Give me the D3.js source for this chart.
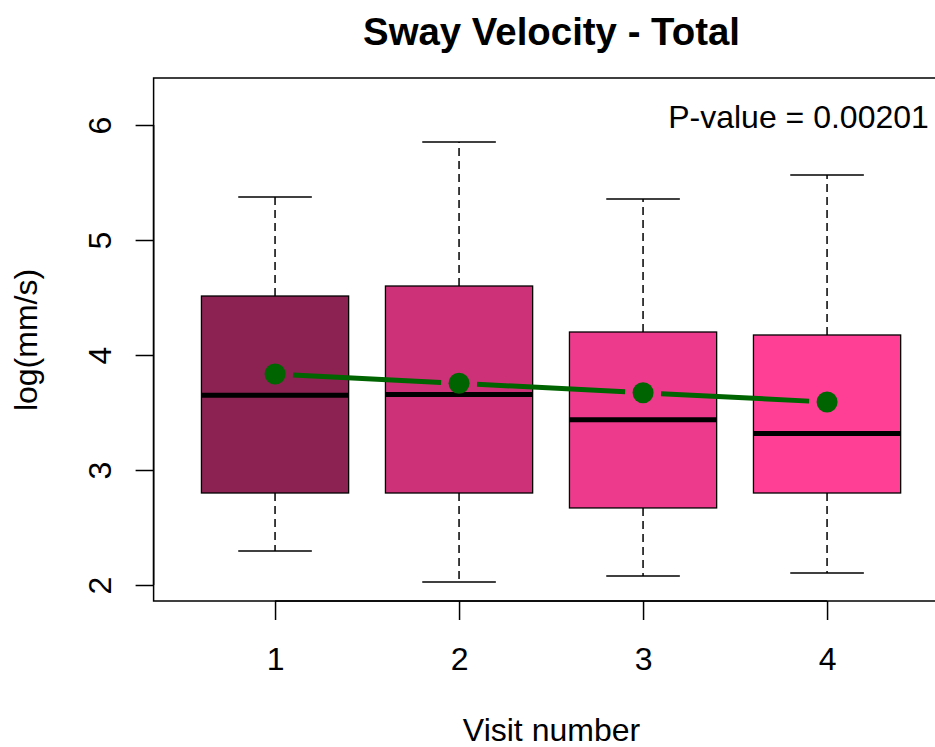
<!DOCTYPE html>
<html>
<head>
<meta charset="utf-8">
<script src="https://cdn.jsdelivr.net/npm/d3@7"></script>
<style>
  html, body { margin: 0; padding: 0; background: #fff; }
  svg { display: block; font-family: Arial, "Liberation Sans", Helvetica, sans-serif; }
</style>
</head>
<body>
<svg id="chart" width="935" height="747"></svg>
<script>
// Sway velocity (log mm/s) per visit: five-number summaries and means
const visits   = [1, 2, 3, 4];
const whiskLo  = [2.296, 2.026, 2.078, 2.104];
const q1       = [2.800, 2.800, 2.670, 2.800];
const median   = [3.650, 3.657, 3.437, 3.318];
const q3       = [4.513, 4.600, 4.200, 4.174];
const whiskHi  = [5.374, 5.852, 5.357, 5.565];
const means    = [3.835, 3.754, 3.672, 3.591];
const fills    = ["#8B2252", "#CD3278", "#EE3A8C", "#FF3E96"];
const yTicks   = [2, 3, 4, 5, 6];
const pLabel   = "P-value = 0.00201";

const svg = d3.select("#chart");

const x = d3.scaleLinear().domain([0.34, 4.66]).range([153.6, 948.5]);
const y = d3.scaleLinear().domain([1.8609, 6.4087]).range([601, 78]);

const boxHalf = 0.4, capHalf = 0.2;

const boxes = visits.map((v, i) => ({
  v, lo: whiskLo[i], q1: q1[i], med: median[i], q3: q3[i], hi: whiskHi[i], mean: means[i], fill: fills[i]
}));

const g = svg.append("g");

// whiskers (dashed) and caps
boxes.forEach(d => {
  g.append("line")
    .attr("x1", x(d.v)).attr("x2", x(d.v))
    .attr("y1", y(d.q3)).attr("y2", y(d.hi))
    .attr("stroke", "#000").attr("stroke-width", 1.5).attr("stroke-dasharray", "8,5");
  g.append("line")
    .attr("x1", x(d.v)).attr("x2", x(d.v))
    .attr("y1", y(d.q1)).attr("y2", y(d.lo))
    .attr("stroke", "#000").attr("stroke-width", 1.5).attr("stroke-dasharray", "8,5");
  [d.hi, d.lo].forEach(val => {
    g.append("line")
      .attr("x1", x(d.v - capHalf)).attr("x2", x(d.v + capHalf))
      .attr("y1", y(val)).attr("y2", y(val))
      .attr("stroke", "#000").attr("stroke-width", 1.5);
  });
});

// boxes
g.selectAll("rect.box").data(boxes).enter().append("rect")
  .attr("class", "box")
  .attr("x", d => x(d.v - boxHalf))
  .attr("width", d => x(d.v + boxHalf) - x(d.v - boxHalf))
  .attr("y", d => y(d.q3))
  .attr("height", d => y(d.q1) - y(d.q3))
  .attr("fill", d => d.fill)
  .attr("stroke", "#000").attr("stroke-width", 1.3);

// medians
g.selectAll("line.med").data(boxes).enter().append("line")
  .attr("class", "med")
  .attr("x1", d => x(d.v - boxHalf)).attr("x2", d => x(d.v + boxHalf))
  .attr("y1", d => y(d.med)).attr("y2", d => y(d.med))
  .attr("stroke", "#000").attr("stroke-width", 5);

// mean trend: points joined by segments that stop short of each point
const gap = 18;
for (let i = 0; i < boxes.length - 1; i++) {
  const x1 = x(boxes[i].v), y1 = y(boxes[i].mean);
  const x2 = x(boxes[i + 1].v), y2 = y(boxes[i + 1].mean);
  const len = Math.hypot(x2 - x1, y2 - y1);
  const ux = (x2 - x1) / len, uy = (y2 - y1) / len;
  g.append("line")
    .attr("x1", x1 + ux * gap).attr("y1", y1 + uy * gap)
    .attr("x2", x2 - ux * gap).attr("y2", y2 - uy * gap)
    .attr("stroke", "#006400").attr("stroke-width", 5);
}
g.selectAll("circle.mean").data(boxes).enter().append("circle")
  .attr("class", "mean")
  .attr("cx", d => x(d.v)).attr("cy", d => y(d.mean))
  .attr("r", 10.5)
  .attr("fill", "#006400");

// plot frame
svg.append("rect")
  .attr("x", x.range()[0]).attr("y", y.range()[1])
  .attr("width", x.range()[1] - x.range()[0])
  .attr("height", y.range()[0] - y.range()[1])
  .attr("fill", "none").attr("stroke", "#000").attr("stroke-width", 1.5);

// y axis
const yAxis = svg.append("g").attr("transform", `translate(${x.range()[0]},0)`)
  .call(d3.axisLeft(y).tickValues(yTicks).tickSize(18).tickSizeOuter(0).tickFormat(d3.format("d")));
yAxis.select(".domain").attr("d", `M0,${y(yTicks[0])}V${y(yTicks[yTicks.length - 1])}`)
  .attr("stroke-width", 1.5);
yAxis.selectAll(".tick line").attr("stroke-width", 1.5);
yAxis.selectAll(".tick text")
  .attr("x", null).attr("dy", null)
  .attr("transform", "translate(-43,0) rotate(-90)")
  .attr("text-anchor", "middle")
  .attr("font-size", 32).attr("font-family", "Arial, 'Liberation Sans', sans-serif")
  .attr("fill", "#000");

// x axis
const xAxis = svg.append("g").attr("transform", `translate(0,${y.range()[0]})`)
  .call(d3.axisBottom(x).tickValues(visits).tickSize(19).tickSizeOuter(0).tickFormat(d3.format("d")));
xAxis.select(".domain").attr("d", `M${x(visits[0])},0H${x(visits[visits.length - 1])}`)
  .attr("stroke-width", 1.5);
xAxis.selectAll(".tick line").attr("stroke-width", 1.5);
xAxis.selectAll(".tick text")
  .attr("y", 69).attr("dy", null)
  .attr("font-size", 32).attr("font-family", "Arial, 'Liberation Sans', sans-serif")
  .attr("fill", "#000");

// titles
svg.append("text")
  .attr("x", 551.5).attr("y", 45)
  .attr("text-anchor", "middle")
  .attr("font-size", 38.4).attr("font-weight", "bold")
  .text("Sway Velocity - Total");

svg.append("text")
  .attr("x", 551.5).attr("y", 741)
  .attr("text-anchor", "middle")
  .attr("font-size", 32)
  .text("Visit number");

svg.append("text")
  .attr("transform", "translate(37,340) rotate(-90)")
  .attr("text-anchor", "middle")
  .attr("font-size", 32)
  .text("log(mm/s)");

svg.append("text")
  .attr("x", 798.5).attr("y", 128)
  .attr("text-anchor", "middle")
  .attr("font-size", 32)
  .text(pLabel);
</script>
</body>
</html>
